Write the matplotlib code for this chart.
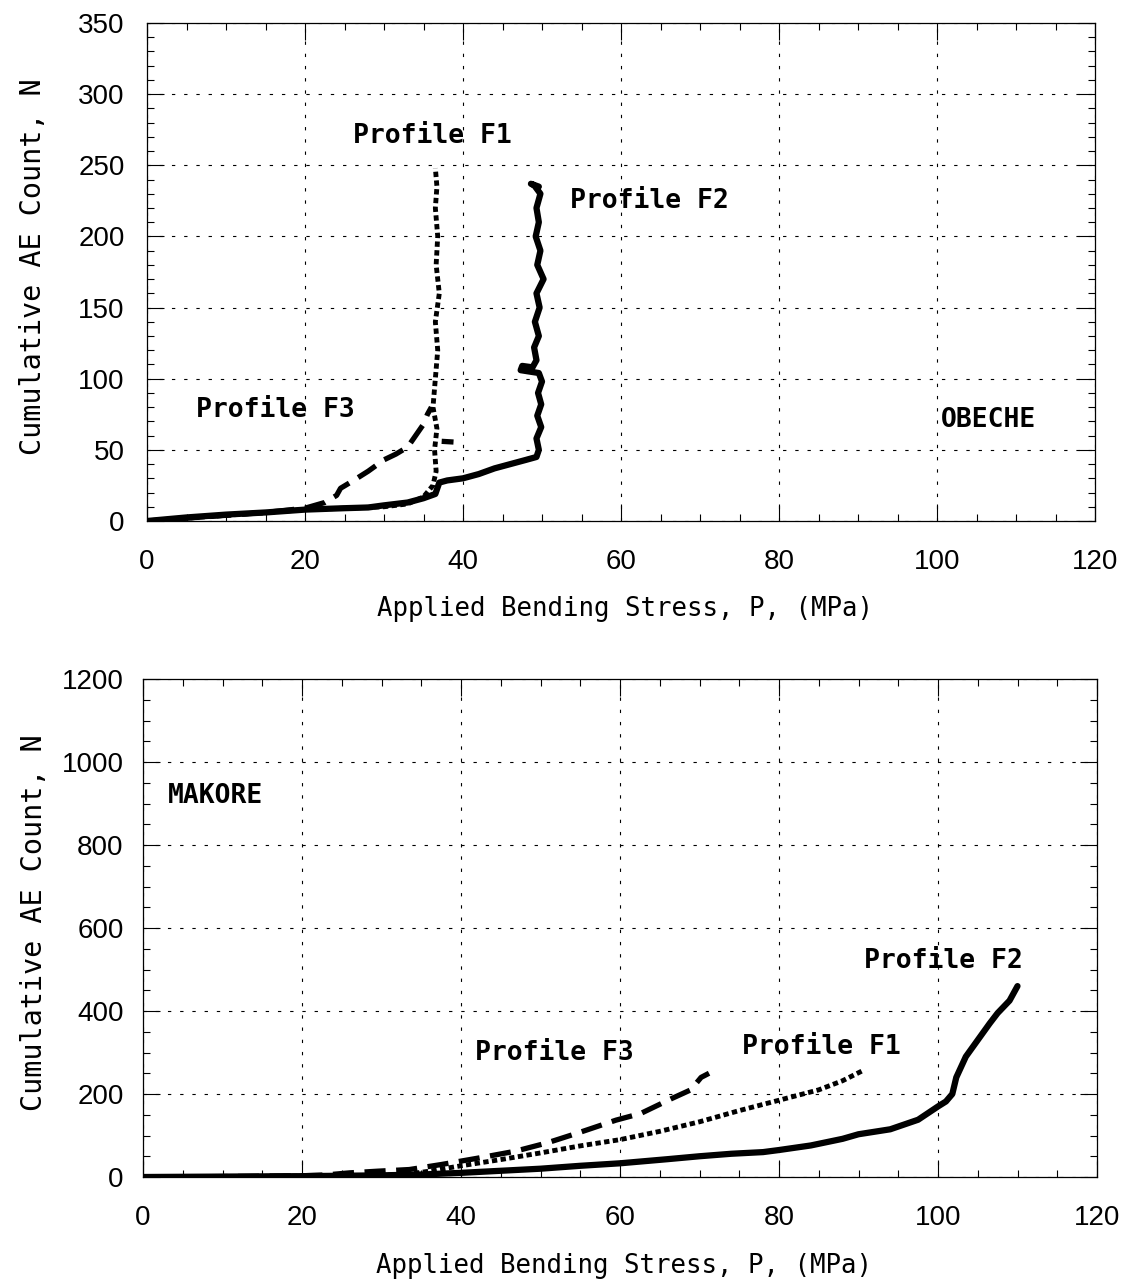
import numpy as np
import matplotlib
matplotlib.use("Agg")
import matplotlib.pyplot as plt
from matplotlib.ticker import MultipleLocator

nan = np.nan

# ---------------- OBECHE (top panel) ----------------
ob_f1_x = [0, 5, 10, 15, 20, 25, 30, 33, 35, 36.2, 36.6, 36.4, 36.7, 36.2, 36.5, 36.8, 36.5, 37.0, 36.6, 36.8, 36.5, 36.7, 36.5]
ob_f1_y = [0, 2, 4, 6, 8, 9, 10, 12, 17, 25, 35, 50, 65, 80, 100, 120, 140, 160, 180, 200, 220, 235, 248]

ob_f2_x = [0, 5, 10, 15, 20, 25, 28, 30, 33, 35, 36.5, 37.0, 38, 40, 42, 44, 46, 48, 49.3,
           49.6, 49.3, 49.9, 49.4, 49.9, 49.5, 50.0, 49.6, 47.3, 47.5, 48.8, 49.3, 49.0, 49.6,
           49.1, 49.7, 49.3, 50.2, 49.4, 49.8, 49.2, 49.6, 49.3, 49.8, 49.0, 48.6, 49.6]
ob_f2_y = [0, 2.5, 4.5, 6, 8, 9, 9.5, 11, 13, 16, 19, 27, 28.5, 30, 33, 37, 40, 43, 45,
           50, 58, 66, 74, 82, 90, 98, 104, 106, 109, 108, 113, 122, 130,
           140, 150, 160, 170, 180, 190, 200, 210, 220, 230, 236, 237, 235]

ob_f3_x = [0, 5, 10, 15, 20, 22.5, 24.0, 24.5, 26, 28, 30, 31.5, 33, 34, 35, 35.5, 36.0, nan, 37.3, 38.8]
ob_f3_y = [0, 2, 4, 6, 9, 13, 18, 23, 28, 35, 43, 47, 52, 60, 68, 75, 80, nan, 56, 55.5]

# ---------------- MAKORE (bottom panel) ----------------
mk_f1_x = [0, 10, 20, 30, 33, 36, 40, 45, 50, 55, 60, 65, 70, 75, 80, 85, 88, 90.5]
mk_f1_y = [0, 1, 2, 4, 6, 14, 27, 42, 58, 75, 90, 110, 133, 160, 185, 210, 232, 256]

mk_f2_x = [0, 10, 20, 30, 35, 40, 45, 50, 55, 60, 66, 70, 74, 78, 80, 84, 88, 90, 94, 97.5,
           100, 101, 101.8, 102.3, 103.5, 105, 106.5, 107.5, 109, 110]
mk_f2_y = [0, 1, 2, 4, 6, 10, 15, 20, 27, 33, 43, 50, 56, 60, 65, 76, 92, 103, 115, 138,
           170, 182, 200, 240, 290, 330, 370, 395, 425, 460]

mk_f3_x = [0, 10, 20, 23, 26, 29.5, 33.5, 37.5, 42, 46.8, 50.8, 54.7, 59.5, 62.6, 66.5, 68.9, 70.2, 71.2]
mk_f3_y = [0, 1, 3, 5, 10, 14, 18, 30, 45, 62, 82, 106, 137, 153, 189, 210, 240, 250]

x_ticks = [0, 20, 40, 60, 80, 100, 120]
ob_y_ticks = [0, 50, 100, 150, 200, 250, 300, 350]
mk_y_ticks = [0, 200, 400, 600, 800, 1000, 1200]

xlabel = "Applied Bending Stress, P, (MPa)"
ylabel = "Cumulative AE Count, N"

mono = ["DejaVu Sans Mono"]
tickfont = "Liberation Sans"

fig = plt.figure(figsize=(11.28, 12.8), dpi=100)
ax1 = fig.add_axes([147/1128, 1-521/1280, (1095-147)/1128, (521-23)/1280])
ax2 = fig.add_axes([143/1128, 1-1177/1280, (1097-143)/1128, (1177-679)/1280])

def style(ax, ymax, ymajor, yminor, ypad):
    ax.set_xlim(0, 120)
    ax.set_ylim(0, ymax)
    ax.xaxis.set_major_locator(MultipleLocator(20))
    ax.xaxis.set_minor_locator(MultipleLocator(5))
    ax.yaxis.set_major_locator(MultipleLocator(ymajor))
    ax.yaxis.set_minor_locator(MultipleLocator(yminor))
    ax.tick_params(which="both", direction="in", top=True, right=True, width=0.8)
    ax.tick_params(which="major", length=12)
    ax.tick_params(which="minor", length=5)
    ax.tick_params(axis="x", which="major", pad=20)
    ax.tick_params(axis="y", which="major", pad=ypad)
    ax.grid(True, which="major", color="black", lw=0.8, linestyle=(0, (3, 8)))
    for s in ax.spines.values():
        s.set_linewidth(0.9)
    ax.set_xlabel(xlabel, fontfamily=mono, fontsize=18.5)
    ax.set_ylabel(ylabel, fontfamily=mono, fontsize=20.5)

def draw(ax, f1x, f1y, f2x, f2y, f3x, f3y):
    ax.plot(f2x, f2y, color="black", lw=4.5, solid_capstyle="round", solid_joinstyle="round")
    ax.plot(f1x, f1y, color="black", lw=3.5, linestyle=(0, (1.1, 0.7)))
    ax.plot(f3x, f3y, color="black", lw=3.8, linestyle=(0, (4, 2)))

draw(ax1, ob_f1_x, ob_f1_y, ob_f2_x, ob_f2_y, ob_f3_x, ob_f3_y)
draw(ax2, mk_f1_x, mk_f1_y, mk_f2_x, mk_f2_y, mk_f3_x, mk_f3_y)

style(ax1, 350, 50, 10, 16)
style(ax2, 1200, 200, 50, 14)
ax1.set_xticks(x_ticks)
ax1.set_yticks(ob_y_ticks)
ax2.set_xticks(x_ticks)
ax2.set_yticks(mk_y_ticks)
for ax in (ax1, ax2):
    for lab in ax.get_xticklabels() + ax.get_yticklabels():
        lab.set_fontfamily(tickfont)
        lab.set_fontsize(20)

ax1.xaxis.set_label_coords(0.504, -0.15)
ax1.yaxis.set_label_coords(-0.106, 0.51)
ax2.xaxis.set_label_coords(0.504, -0.152)
ax2.yaxis.set_label_coords(-0.1, 0.51)

ann = dict(fontfamily=mono, fontsize=19, fontweight="bold", va="center", ha="left")
ax1.text(26.1, 270.7, "Profile F1", **ann)
ax1.text(53.5, 225, "Profile F2", **ann)
ax1.text(6.2, 77.8, "Profile F3", **ann)
ax1.text(100.5, 70.8, "OBECHE", **ann)

ax2.text(3.1, 917, "MAKORE", **ann)
ax2.text(90.7, 521, "Profile F2", **ann)
ax2.text(75.3, 314, "Profile F1", **ann)
ax2.text(41.7, 298, "Profile F3", **ann)

fig.savefig("out.png", dpi=100)
